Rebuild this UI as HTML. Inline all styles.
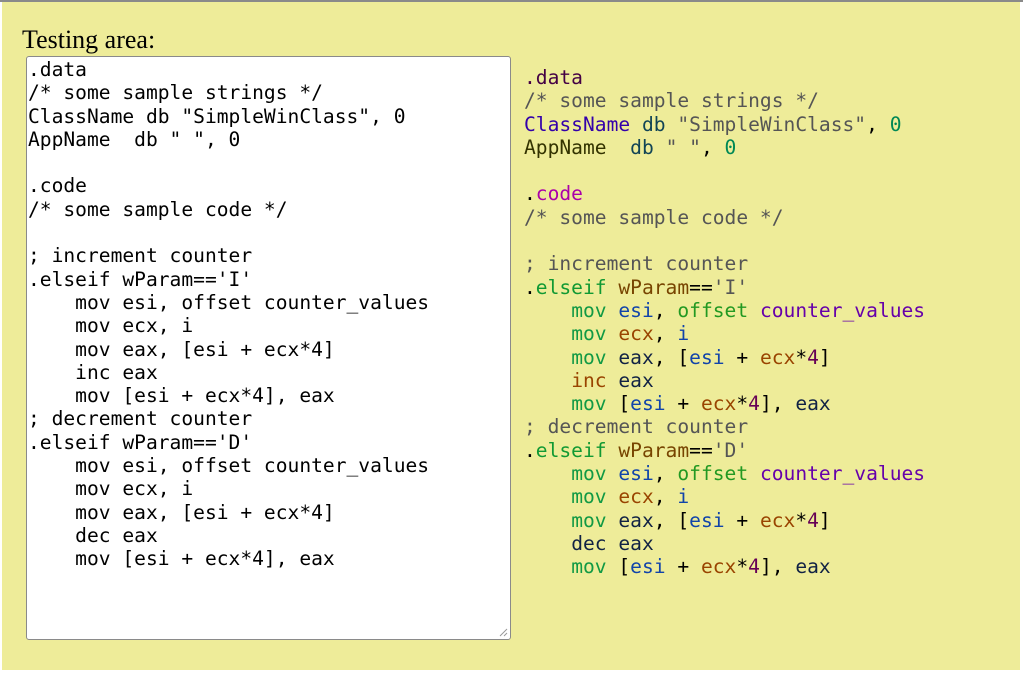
<!DOCTYPE html>
<html><head><meta charset="utf-8"><style>
html,body{margin:0;padding:0;background:#fff;width:1023px;height:673px;overflow:hidden;position:relative}
.top{position:absolute;left:0;top:0;width:1023px;height:2px;background:#8a8a8a}
.bg{position:absolute;left:2px;top:2px;width:1018px;height:668px;background:#eeec99}
.title{position:absolute;left:22px;top:25px;font-family:"Liberation Serif",serif;font-size:26px;color:#000}
.ta{position:absolute;left:26px;top:56px;width:483px;height:582px;background:#fff;border:1px solid #8a8a8a;border-radius:3px}
pre{margin:0;font-family:"DejaVu Sans Mono",monospace;font-size:19.6px;line-height:23.3px;position:absolute}
.l{left:28px;top:58px;color:#000}
.r{left:524px;top:66px;color:#000}
.grip{position:absolute;left:498px;top:627px;width:10px;height:10px}
.kd{color:#404}.c{color:#555}.cn{color:#3300aa}.db{color:#114455}.s{color:#555}.n{color:#008855}
.an{color:#333300}.kc{color:#aa00aa}.g{color:#119933}.w{color:#774400}.m{color:#119944}
.b{color:#1144aa}.o{color:#229922}.p{color:#6600aa}.br{color:#994400}.e{color:#112244}.f{color:#660055}
</style></head><body>
<div class="top"></div><div class="bg"></div>
<div class="title">Testing area:</div>
<div class="ta"></div>
<svg class="grip" viewBox="0 0 10 10"><line x1="2" y1="9" x2="9" y2="2" stroke="#999"/><line x1="6" y1="9" x2="9" y2="6" stroke="#999"/></svg>
<pre class="l">.data
/* some sample strings */
ClassName db "SimpleWinClass", 0
AppName  db " ", 0

.code
/* some sample code */

; increment counter
.elseif wParam=='I'
    mov esi, offset counter_values
    mov ecx, i
    mov eax, [esi + ecx*4]
    inc eax
    mov [esi + ecx*4], eax
; decrement counter
.elseif wParam=='D'
    mov esi, offset counter_values
    mov ecx, i
    mov eax, [esi + ecx*4]
    dec eax
    mov [esi + ecx*4], eax</pre>
<pre class="r"><span class="kd">.data</span>
<span class="c">/* some sample strings */</span>
<span class="cn">ClassName</span> <span class="db">db</span> <span class="s">"SimpleWinClass"</span>, <span class="n">0</span>
<span class="an">AppName</span>  <span class="db">db</span> <span class="s">" "</span>, <span class="n">0</span>

.<span class="kc">code</span>
<span class="c">/* some sample code */</span>

<span class="c">; increment counter</span>
.<span class="g">elseif</span> <span class="w">wParam</span>==<span class="s">'I'</span>
    <span class="m">mov</span> <span class="b">esi</span>, <span class="o">offset</span> <span class="p">counter_values</span>
    <span class="m">mov</span> <span class="br">ecx</span>, <span class="b">i</span>
    <span class="m">mov</span> <span class="e">eax</span>, [<span class="b">esi</span> + <span class="br">ecx</span>*<span class="f">4</span>]
    <span class="br">inc</span> <span class="e">eax</span>
    <span class="m">mov</span> [<span class="b">esi</span> + <span class="br">ecx</span>*<span class="f">4</span>], <span class="e">eax</span>
<span class="c">; decrement counter</span>
.<span class="g">elseif</span> <span class="w">wParam</span>==<span class="s">'D'</span>
    <span class="m">mov</span> <span class="b">esi</span>, <span class="o">offset</span> <span class="p">counter_values</span>
    <span class="m">mov</span> <span class="br">ecx</span>, <span class="b">i</span>
    <span class="m">mov</span> <span class="e">eax</span>, [<span class="b">esi</span> + <span class="br">ecx</span>*<span class="f">4</span>]
    <span class="e">dec</span> <span class="e">eax</span>
    <span class="m">mov</span> [<span class="b">esi</span> + <span class="br">ecx</span>*<span class="f">4</span>], <span class="e">eax</span></pre>
</body></html>
